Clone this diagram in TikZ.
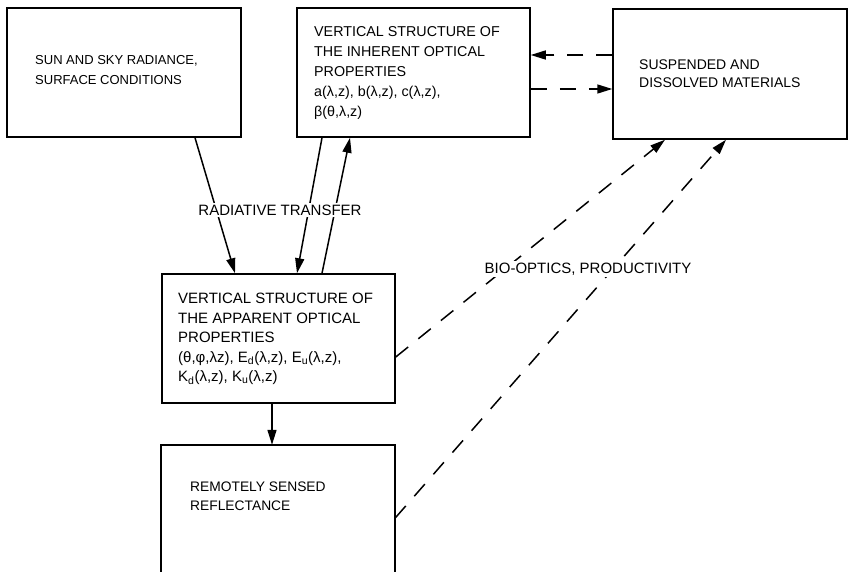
\documentclass[tikz,border=0pt]{standalone}
\usepackage{fontspec}
\setmainfont{Liberation Sans}
\usetikzlibrary{arrows.meta}
\begin{document}
\begin{tikzpicture}[x=1pt,y=-1pt,
  box/.style={draw, line width=1.5pt, rectangle, inner sep=0pt},
  txt/.style={anchor=west, inner sep=0pt, align=left},
  lbl/.style={inner sep=1.5pt, font=\fontsize{15}{18}\selectfont},
  arr/.style={line width=1.5pt, -{Triangle[length=15pt,width=9pt]}},
  darr/.style={arr, dash pattern=on 16pt off 13pt}]
\useasboundingbox (0,0) rectangle (849,572);
% boxes
\node[box, minimum width=234pt, minimum height=129pt] (sun) at (124,72.5) {};
\node[box, minimum width=233pt, minimum height=129pt] (iop) at (413.5,72.5) {};
\node[box, minimum width=234pt, minimum height=130pt] (sus) at (730,74) {};
\node[box, minimum width=233pt, minimum height=129pt] (aop) at (278.5,338.5) {};
\node[inner sep=0pt, minimum width=234pt, minimum height=127pt] (rem) at (278,508.5) {};
\draw[line width=1.5pt] (rem.south west) -- (rem.north west) -- (rem.north east) -- (rem.south east);
% texts
\node[txt, font=\fontsize{13}{20}\selectfont] (sunT) at (35,70) {SUN AND SKY RADIANCE,\\SURFACE CONDITIONS};
\node[txt, font=\fontsize{14.3}{20}\selectfont] (iopT) at (314,73) {VERTICAL STRUCTURE OF\\THE INHERENT OPTICAL\\PROPERTIES\\a(λ,z), b(λ,z), c(λ,z),\\β(θ,λ,z)};
\node[txt, font=\fontsize{14}{18}\selectfont] (susT) at (639,74) {SUSPENDED AND\\DISSOLVED MATERIALS};
\node[txt, font=\fontsize{15}{19.5}\selectfont] (aopT) at (178,339) {VERTICAL STRUCTURE OF\\THE APPARENT OPTICAL\\PROPERTIES\\(θ,φ,λz), E\textsubscript{d}(λ,z), E\textsubscript{u}(λ,z),\\K\textsubscript{d}(λ,z), K\textsubscript{u}(λ,z)};
\node[txt, font=\fontsize{13.8}{19}\selectfont] (remT) at (190,496.5) {REMOTELY SENSED\\REFLECTANCE};
% connectors
\draw[arr] ([xshift=71pt]sun.south) -- ([xshift=-43.5pt]aop.north);
\draw[arr] ([xshift=-91.5pt]iop.south) -- ([xshift=18.5pt]aop.north);
\draw[arr] ([xshift=43.5pt]aop.north) -- ([xshift=-63.5pt]iop.south);
\draw[darr] ([yshift=19pt]sus.west) coordinate (s1) -- (s1 -| iop.east);
\draw[darr] ([yshift=-16.5pt]iop.east) coordinate (s2) -- (s2 -| sus.west);
\draw[darr] ([yshift=-18.5pt]aop.east) -- ([xshift=-65pt]sus.south);
\draw[darr] ([yshift=-9.5pt]rem.east) -- ([xshift=-4pt]sus.south);
\draw[arr] ([xshift=-6.5pt]aop.south) coordinate (d1) -- (d1 |- rem.north);
% labels
\node[lbl, fill=white] (rt) at (280,210) {RADIATIVE TRANSFER};
\node[lbl, fill=white] (bio) at (588,269) {BIO-OPTICS, PRODUCTIVITY};
\end{tikzpicture}
\end{document}
